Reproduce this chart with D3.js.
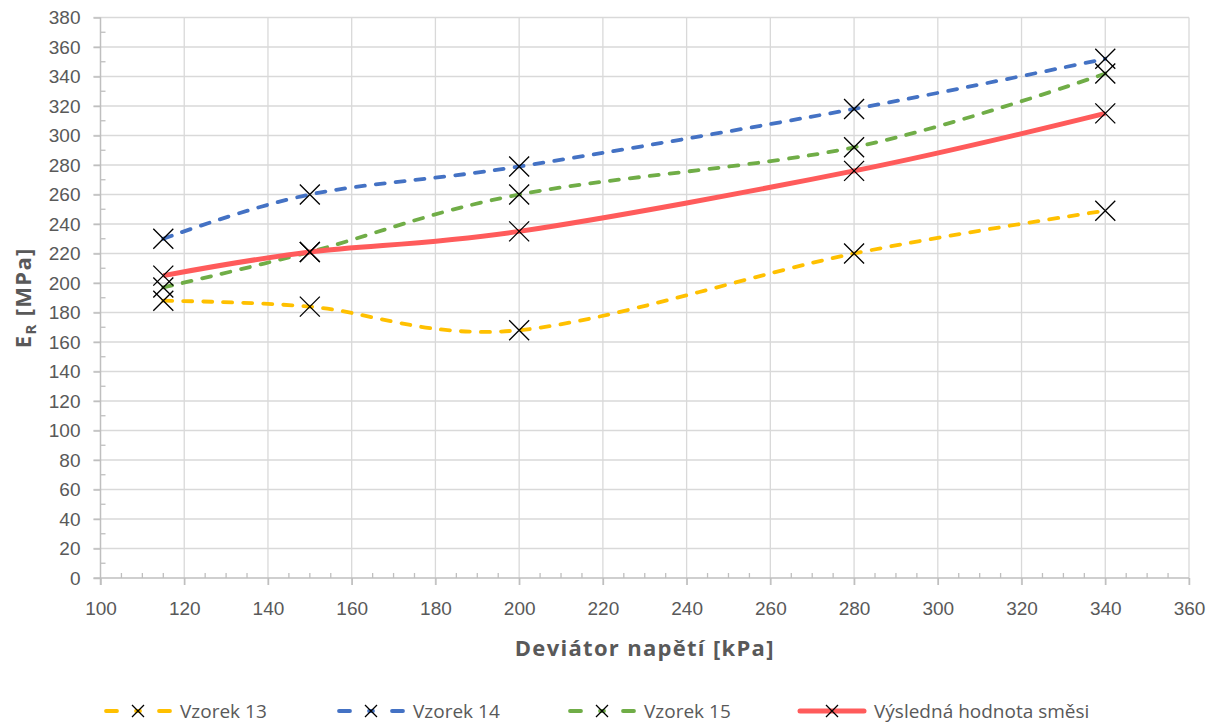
<!DOCTYPE html>
<html>
<head>
<meta charset="utf-8">
<script src="https://cdn.jsdelivr.net/npm/d3@7"></script>
<style>
  body { margin: 0; background: #fff; }
  svg { font-family: "Open Sans", Lato, sans-serif; }
  .grid line { stroke: #d9d9d9; stroke-width: 1.3; }
  .axis text { fill: #595959; font-size: 19px; }
  .title { fill: #595959; font-weight: bold; font-size: 22px; letter-spacing: 1.3px; }
  .legend text { fill: #595959; font-size: 19px; }
</style>
</head>
<body>
<svg id="chart" width="1220" height="722"></svg>
<script>
  // deviator stress [kPa]
  const deviator = [115, 150, 200, 280, 340];
  const vzorek13 = [188, 184, 168, 220, 249];
  const vzorek14 = [230, 260, 279, 318, 352];
  const vzorek15 = [197, 221, 260, 292, 342];
  const vysledna = [205, 221, 235, 276, 315];

  const xTicks = d3.range(100, 361, 20);
  const yTicks = d3.range(0, 381, 20);

  const series = [
    { name: "Vzorek 13", values: vzorek13, color: "#FFC000", dashed: true },
    { name: "Vzorek 14", values: vzorek14, color: "#4472C4", dashed: true },
    { name: "Vzorek 15", values: vzorek15, color: "#70AD47", dashed: true },
    { name: "Výsledná hodnota směsi", values: vysledna, color: "#FF5B5B", dashed: false }
  ];

  const margin = { top: 17.5, right: 31, bottom: 144, left: 100.5 };
  const width = 1220, height = 722;
  const svg = d3.select("#chart");

  const x = d3.scaleLinear().domain([100, 360]).range([margin.left, width - margin.right]);
  const y = d3.scaleLinear().domain([0, 380]).range([height - margin.bottom, margin.top]);

  // gridlines
  const grid = svg.append("g").attr("class", "grid");
  grid.selectAll(".h").data(yTicks.slice(1)).join("line")
    .attr("x1", x(100) - 7).attr("x2", x(360))
    .attr("y1", d => y(d)).attr("y2", d => y(d));
  grid.selectAll(".v").data(xTicks.slice(1)).join("line")
    .attr("x1", d => x(d)).attr("x2", d => x(d))
    .attr("y1", y(0) + 7).attr("y2", y(380));

  // axes
  const axisColor = "#bfbfbf";
  const xAxis = svg.append("g").attr("class", "axis").attr("transform", `translate(0,${y(0)})`)
    .call(d3.axisBottom(x).tickValues(xTicks).tickSize(7).tickPadding(17));
  const yAxis = svg.append("g").attr("class", "axis").attr("transform", `translate(${x(100)},0)`)
    .call(d3.axisLeft(y).tickValues(yTicks).tickSize(7).tickPadding(13));
  [xAxis, yAxis].forEach(a => {
    a.select(".domain").attr("stroke", axisColor).attr("stroke-width", 1.5);
    a.selectAll(".tick line").attr("stroke", axisColor).attr("stroke-width", 1.5);
    a.selectAll("text").attr("font-family", null).attr("font-size", null);
  });
  xAxis.select(".domain").attr("d", `M${x(100) - 7},0H${x(360)}`);
  yAxis.select(".domain").attr("d", `M0,${y(0) + 7}V${y(380)}`);

  // minor ticks
  svg.append("g").selectAll("line").data(d3.range(105, 360, 5).filter(v => v % 20)).join("line")
    .attr("x1", d => x(d)).attr("x2", d => x(d))
    .attr("y1", y(0)).attr("y2", y(0) - 5)
    .attr("stroke", axisColor).attr("stroke-width", 1.3);
  svg.append("g").selectAll("line").data(d3.range(10, 380, 20)).join("line")
    .attr("x1", x(100)).attr("x2", x(100) + 5)
    .attr("y1", d => y(d)).attr("y2", d => y(d))
    .attr("stroke", axisColor).attr("stroke-width", 1.3);

  // lines
  const line = d3.line().x(d => x(d[0])).y(d => y(d[1])).curve(d3.curveCardinal.tension(0));
  const marker = (g, s) => g.append("path")
    .attr("d", `M${-s},${-s}L${s},${s}M${-s},${s}L${s},${-s}`)
    .attr("stroke", "#000").attr("stroke-width", 1.3).attr("fill", "none");

  series.forEach(s => {
    svg.append("path")
      .datum(deviator.map((d, i) => [d, s.values[i]]))
      .attr("d", line)
      .attr("fill", "none")
      .attr("stroke", s.color)
      .attr("stroke-width", s.dashed ? 3.8 : 5)
      .attr("stroke-linecap", s.dashed ? "round" : "butt")
      .attr("stroke-dasharray", s.dashed ? "9 11" : null);
  });
  series.forEach(s => {
    deviator.forEach((d, i) => {
      const g = svg.append("g").attr("transform", `translate(${x(d)},${y(s.values[i])})`);
      marker(g, 10);
    });
  });

  // axis titles
  svg.append("text").attr("class", "title")
    .attr("x", (x(100) + x(360)) / 2).attr("y", 656)
    .attr("text-anchor", "middle").text("Deviátor napětí [kPa]");
  const yt = svg.append("text").attr("class", "title")
    .attr("transform", `translate(31,${(y(0) + y(380)) / 2}) rotate(-90)`)
    .attr("text-anchor", "middle");
  yt.append("tspan").text("E");
  yt.append("tspan").attr("dy", 5).attr("font-size", 15).text("R");
  yt.append("tspan").attr("dy", -5).text(" [MPa]");

  // legend
  const legendX = [104, 337, 568, 798];
  const legend = svg.append("g").attr("class", "legend");
  series.forEach((s, i) => {
    const g = legend.append("g").attr("transform", `translate(${legendX[i]},711)`);
    if (s.dashed) {
      [[0, 15], [53, 68]].forEach(([a, b]) => g.append("line")
        .attr("x1", a + 2).attr("x2", b - 2).attr("stroke", s.color)
        .attr("stroke-width", 3.8).attr("stroke-linecap", "round"));
      g.append("line").attr("x1", 32).attr("x2", 36).attr("stroke", s.color)
        .attr("stroke-width", 3.8).attr("stroke-linecap", "round");
    } else {
      g.append("line").attr("x1", 2).attr("x2", 66).attr("stroke", s.color)
        .attr("stroke-width", 5).attr("stroke-linecap", "round");
    }
    marker(g.append("g").attr("transform", "translate(34,0)"), 6);
    g.append("text").attr("x", 76).attr("y", 6.5).text(s.name);
  });
</script>
</body>
</html>
